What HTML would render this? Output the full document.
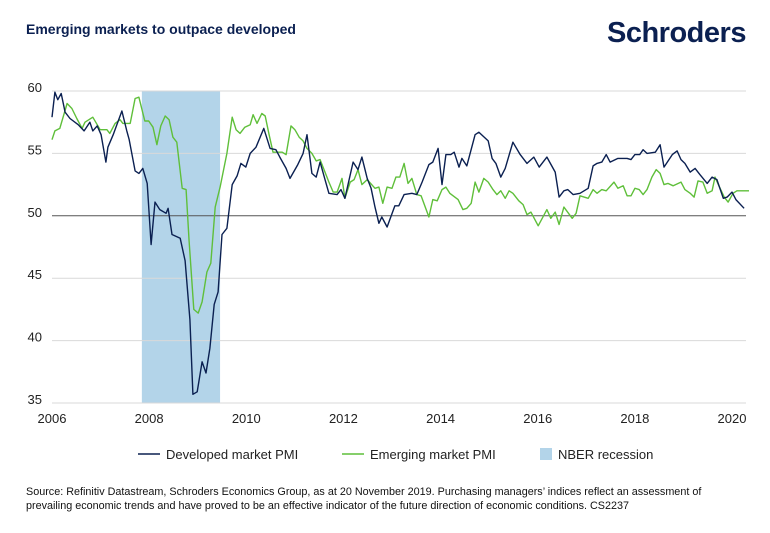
<!DOCTYPE html>
<html><head><meta charset="utf-8"><style>
body{margin:0;background:#fff;font-family:"Liberation Sans",sans-serif;}
#wrap{position:relative;width:770px;height:533px;overflow:hidden;}
</style></head><body>
<div id="wrap">
<div style="position:absolute;left:26px;top:21px;font-size:14px;font-weight:bold;color:#0b2051;">Emerging markets to outpace developed</div>
<div style="position:absolute;left:607px;top:17px;font-size:29px;font-weight:bold;color:#0b2051;letter-spacing:-0.5px;">Schroders</div>
<svg id="chart" width="770" height="533" style="position:absolute;left:0;top:0"></svg>
<div style="position:absolute;left:26px;top:485px;width:712px;font-size:10.8px;line-height:14px;color:#111;">Source: Refinitiv Datastream, Schroders Economics Group, as at 20 November 2019. Purchasing managers’ indices reflect an assessment of prevailing economic trends and have proved to be an effective indicator of the future direction of economic conditions. CS2237</div>
</div>
<script>
const yTicks=[35,40,45,50,55,60];
const xTicks=[2006,2008,2010,2012,2014,2016,2018,2020];
const recession=[2007.85,2009.46];
const devDates=[2006.00,2006.06,2006.12,2006.19,2006.27,2006.37,2006.54,2006.66,2006.78,2006.84,2006.93,2007.01,2007.11,2007.15,2007.26,2007.44,2007.54,2007.59,2007.71,2007.79,2007.87,2007.96,2008.04,2008.12,2008.22,2008.35,2008.39,2008.47,2008.64,2008.74,2008.84,2008.90,2008.99,2009.09,2009.17,2009.25,2009.34,2009.42,2009.50,2009.60,2009.71,2009.81,2009.89,2009.99,2010.08,2010.20,2010.36,2010.49,2010.61,2010.69,2010.82,2010.90,2011.06,2011.17,2011.25,2011.35,2011.44,2011.52,2011.62,2011.70,2011.87,2011.95,2012.03,2012.20,2012.30,2012.38,2012.49,2012.57,2012.65,2012.73,2012.79,2012.90,2013.06,2013.14,2013.25,2013.41,2013.51,2013.62,2013.76,2013.84,2013.95,2014.03,2014.11,2014.21,2014.28,2014.38,2014.44,2014.54,2014.71,2014.79,2014.98,2015.06,2015.14,2015.24,2015.33,2015.49,2015.64,2015.78,2015.92,2016.03,2016.19,2016.36,2016.44,2016.54,2016.62,2016.73,2016.87,2017.04,2017.14,2017.22,2017.32,2017.41,2017.49,2017.65,2017.84,2017.92,2018.00,2018.10,2018.17,2018.25,2018.42,2018.52,2018.60,2018.77,2018.87,2018.95,2019.03,2019.14,2019.24,2019.34,2019.49,2019.59,2019.69,2019.82,2019.90,2020.00,2020.08,2020.25];
const devValues=[57.9,59.9,59.3,59.8,58.3,57.8,57.3,56.8,57.5,56.8,57.2,56.5,54.3,55.5,56.5,58.4,56.8,56.1,53.6,53.4,53.8,52.6,47.7,51.1,50.5,50.2,50.6,48.5,48.2,46.4,41.7,35.7,35.9,38.3,37.4,39.4,42.9,43.9,48.5,49.0,52.5,53.2,54.2,53.9,55.0,55.5,57.0,55.4,55.3,54.7,53.8,53.0,54.1,55.0,56.5,53.4,53.1,54.3,52.9,51.8,51.7,52.1,51.4,54.3,53.7,54.7,53.0,52.2,50.7,49.4,49.9,49.1,50.8,50.8,51.7,51.8,51.7,52.7,54.1,54.3,55.4,52.5,54.9,54.9,55.1,53.9,54.6,54.0,56.5,56.7,56.0,54.6,54.2,53.1,53.8,55.9,54.9,54.2,54.7,53.9,54.7,53.5,51.5,52.0,52.1,51.7,51.8,52.2,54.0,54.2,54.3,54.9,54.3,54.6,54.6,54.5,54.9,54.9,55.3,55.0,55.1,55.7,53.9,54.9,55.2,54.5,54.2,53.5,53.8,53.3,52.6,53.1,52.9,51.4,51.5,51.9,51.3,50.6];
const emDates=[2006.00,2006.06,2006.16,2006.31,2006.41,2006.51,2006.62,2006.68,2006.84,2006.93,2006.99,2007.13,2007.19,2007.30,2007.40,2007.46,2007.61,2007.71,2007.79,2007.91,2007.99,2008.08,2008.16,2008.24,2008.33,2008.41,2008.49,2008.57,2008.68,2008.76,2008.82,2008.92,2009.01,2009.09,2009.19,2009.27,2009.36,2009.46,2009.60,2009.71,2009.79,2009.87,2009.97,2010.08,2010.14,2010.22,2010.32,2010.39,2010.47,2010.55,2010.74,2010.82,2010.92,2011.00,2011.09,2011.17,2011.25,2011.35,2011.44,2011.52,2011.62,2011.70,2011.79,2011.87,2011.97,2012.03,2012.14,2012.22,2012.30,2012.38,2012.49,2012.65,2012.73,2012.81,2012.90,2013.00,2013.08,2013.16,2013.25,2013.33,2013.41,2013.51,2013.60,2013.76,2013.84,2013.93,2014.03,2014.11,2014.19,2014.36,2014.46,2014.54,2014.63,2014.71,2014.79,2014.89,2014.98,2015.08,2015.16,2015.24,2015.33,2015.41,2015.49,2015.61,2015.70,2015.78,2015.86,2016.01,2016.19,2016.27,2016.36,2016.44,2016.54,2016.71,2016.79,2016.87,2017.04,2017.14,2017.22,2017.32,2017.41,2017.57,2017.65,2017.76,2017.84,2017.92,2018.00,2018.09,2018.17,2018.25,2018.35,2018.44,2018.52,2018.60,2018.68,2018.79,2018.95,2019.03,2019.14,2019.22,2019.30,2019.40,2019.49,2019.59,2019.65,2019.73,2019.84,2019.92,2020.02,2020.10,2020.35];
const emValues=[56.1,56.8,57.0,59.0,58.6,57.8,57.0,57.5,57.9,57.3,56.9,56.9,56.6,57.4,57.7,57.4,57.4,59.4,59.5,57.6,57.6,57.1,55.7,57.2,58.0,57.7,56.3,55.9,52.2,52.1,48.1,42.5,42.2,43.1,45.5,46.2,50.7,52.3,55.0,57.9,56.9,56.6,57.1,57.3,58.1,57.4,58.2,58.0,56.5,55.1,55.1,54.9,57.2,56.9,56.3,56.0,55.4,55.0,54.4,54.5,53.5,52.7,51.9,51.9,53.0,51.4,52.7,52.9,53.7,52.5,52.9,52.2,52.3,51.0,52.3,52.2,53.1,53.1,54.2,52.6,53.0,51.7,51.6,49.9,51.3,51.2,52.1,52.3,51.8,51.3,50.5,50.6,51.0,52.7,51.9,53.0,52.7,52.1,51.7,52.0,51.4,52.0,51.8,51.2,50.9,50.1,50.3,49.2,50.5,49.8,50.3,49.3,50.7,49.8,50.2,51.6,51.4,52.1,51.8,52.1,52.0,52.7,52.2,52.4,51.6,51.6,52.2,52.1,51.7,52.1,53.1,53.7,53.4,52.5,52.6,52.4,52.7,52.1,51.8,51.5,52.8,52.7,51.8,52.0,53.1,52.4,51.5,51.1,51.8,52.0,52.0];

const svg=document.getElementById('chart');
const NS='http://www.w3.org/2000/svg';
const X0=52,X1=732,Y0=403,Y1=91;
function xs(t){return X0+(t-2006)/(2020-2006)*(X1-X0);}
function ys(v){return Y0-(v-35)/(60-35)*(Y0-Y1);}
function mk(tag,attrs){const e=document.createElementNS(NS,tag);for(const k in attrs)e.setAttribute(k,attrs[k]);svg.appendChild(e);return e;}

const rec=mk('rect',{x:xs(recession[0]),y:Y1,width:xs(recession[1])-xs(recession[0]),height:Y0-Y1,fill:'#b3d4e9'});



yTicks.forEach(v=>{
  const l=mk('line',{x1:X0,x2:746,y1:ys(v),y2:ys(v),stroke:v===50?'#555':'#d9d9d9','stroke-width':1});
  
  
  const t=mk('text',{x:42,y:ys(v)+1,'text-anchor':'end','font-size':13,fill:'#222','font-family':'Liberation Sans'});
  t.textContent=v;
  
  
});
xTicks.forEach(v=>{
  const t=mk('text',{x:xs(v),y:423,'text-anchor':'middle','font-size':13,fill:'#222','font-family':'Liberation Sans'});
  t.textContent=v;
  
  
});
function line(d,v,c,name){
  const p=mk('polyline',{points:d.map((t,i)=>xs(t).toFixed(1)+','+ys(v[i]).toFixed(1)).join(' '),fill:'none',stroke:c,'stroke-width':1.4,'stroke-linejoin':'round'});
  
  
}
line(emDates,emValues,'#5fbf3a','emerging-line');
line(devDates,devValues,'#0b2051','developed-line');

function legend(x,kind,c,label,name){
  const g=document.createElementNS(NS,'g');svg.appendChild(g);
  
  
  let s;
  if(kind==='line'){s=document.createElementNS(NS,'line');s.setAttribute('x1',x);s.setAttribute('x2',x+22);s.setAttribute('y1',454);s.setAttribute('y2',454);s.setAttribute('stroke',c);s.setAttribute('stroke-width',1.6);}
  else{s=document.createElementNS(NS,'rect');s.setAttribute('x',x+4);s.setAttribute('y',448);s.setAttribute('width',12);s.setAttribute('height',12);s.setAttribute('fill',c);}
  g.appendChild(s);
  const t=document.createElementNS(NS,'text');t.setAttribute('x',x+(kind==='line'?28:22));t.setAttribute('y',459);t.setAttribute('font-size',13);t.setAttribute('fill','#222');t.setAttribute('font-family','Liberation Sans');t.textContent=label;g.appendChild(t);
}
legend(138,'line','#0b2051','Developed market PMI','legend-developed');
legend(342,'line','#5fbf3a','Emerging market PMI','legend-emerging');
legend(536,'rect','#b3d4e9','NBER recession','legend-recession');
</script>
</body></html>
